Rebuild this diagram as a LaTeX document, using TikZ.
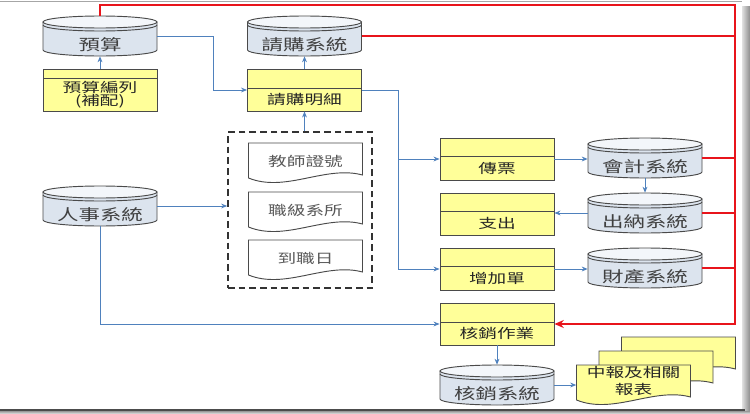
\documentclass[tikz,border=0pt]{standalone}
\usepackage{fontspec}
\setmainfont{Noto Sans CJK TC}[FakeStretch=1.4]
\usetikzlibrary{arrows.meta}

\definecolor{linkblue}{HTML}{4F81BD}
\definecolor{redline}{HTML}{E8141B}
\definecolor{procfill}{HTML}{FFFF99}
\definecolor{cylbody}{HTML}{DCE4EE}
\definecolor{cyltop}{HTML}{F3F6FA}
\definecolor{edge}{HTML}{4A4A4A}

% database drum: name, x, y, text
\newcommand\dbcyl[4]{%
  \begin{scope}[shift={(#2,#3)}]
    \filldraw[cylside] (-57,-14) -- (-57,14) arc[start angle=180,end angle=360,x radius=42.75pt,y radius=4.5pt] -- (57,-14) -- cycle;
    \filldraw[cyllid] (0,-14) ellipse[x radius=42.75pt,y radius=4.5pt];
    \draw[cylside,fill=none] (-57,-11) arc[start angle=180,end angle=360,x radius=42.75pt,y radius=4.5pt];
  \end{scope}
  \node[cyl,label={[cyltxt,yshift=-6.5pt]center:#4}] (#1) at (#2,#3) {};
}
% wavy sheet: x, y, fill
\newcommand\docsheet[3]{%
  \filldraw[docfill=#3,shift={(#1,#2)}] (-57,-20) -- (57,-20) -- (57,12) .. controls (20,2) and (-20,30) .. (-57,15) -- cycle;
}

\begin{document}
\begin{tikzpicture}[x=0.75pt,y=-0.75pt,
  link/.style={draw=linkblue,line width=0.7pt,-{Stealth[length=4.5pt,width=3.6pt]}},
  redbus/.style={draw=redline,line width=1.1pt},
  proc/.style={draw=edge,line width=0.7pt,fill=procfill,minimum width=85.5pt,minimum height=31.5pt,inner sep=0pt,
    path picture={\draw[edge,line width=0.7pt] ([yshift=-#1]path picture bounding box.north west) -- ([yshift=-#1]path picture bounding box.north east);}},
  proc/.default=13.5pt,
  boxtxt/.style={font=\fontsize{10pt}{10pt}\selectfont,text=black!85,align=center,inner sep=0pt},
  doctxt/.style={font=\fontsize{10pt}{10pt}\selectfont,text=black!65,inner sep=0pt},
  cyltxt/.style={font=\fontsize{11.5pt}{11.5pt}\selectfont,text=black!75,inner sep=0pt},
  cylside/.style={draw=edge,line width=0.7pt,fill=cylbody},
  cyllid/.style={draw=edge,line width=0.7pt,fill=cyltop},
  cyl/.style={minimum width=85.5pt,minimum height=30pt,inner sep=0pt},
  docfill/.style={draw=edge,line width=0.7pt,fill=#1},
  doc/.style={minimum width=85.5pt,minimum height=30pt,inner sep=0pt},
  grpbox/.style={draw=black!80,line width=1.2pt,dash pattern=on 5pt off 3pt,minimum width=108pt,minimum height=117pt,inner sep=0pt}]

  % page frame
  \useasboundingbox (0,0) rectangle (750,414);
  \fill[white] (0,0) rectangle (750,414);
  \draw[black!35,line width=0.8pt] (0,1.5) -- (742,1.5);
  \shade[left color=black!12,right color=black!45] (742,6) rectangle (750,414);
  \fill[black!70] (0,409) rectangle (745,411);
  \shade[top color=black!40,bottom color=black!8] (0,411) rectangle (750,414);

  % data stores
  \dbcyl{ys}{100}{36}{預算}
  \dbcyl{qs}{304.5}{36}{請購系統}
  \dbcyl{rs}{100}{206}{人事系統}
  \dbcyl{kj}{645}{158}{會計系統}
  \dbcyl{cn}{645}{213}{出納系統}
  \dbcyl{cc}{645}{268}{財產系統}
  \dbcyl{hc}{497}{385}{核銷系統}

  % processes
  \node[proc=6.75pt,label={[boxtxt,yshift=-3.4pt]center:預算編列\\(補配)}] (bj) at (100,90) {};
  \node[proc=14.25pt,label={[boxtxt,yshift=-7pt]center:請購明細}] (qm) at (304.5,90) {};
  \node[proc,label={[boxtxt,yshift=-6.75pt]center:傳票}] (cp) at (497,159) {};
  \node[proc,label={[boxtxt,yshift=-6.75pt]center:支出}] (zc) at (497,214) {};
  \node[proc,label={[boxtxt,yshift=-6.75pt]center:增加單}] (zj) at (497,269) {};
  \node[proc=14.25pt,label={[boxtxt,yshift=-7pt]center:核銷作業}] (hz) at (497,324) {};

  % personnel fields
  \node[grpbox] (grp) at (300,210) {};
  \docsheet{305.5}{163}{white}
  \node[doc,label={[doctxt,yshift=1.5pt]center:教師證號}] (js) at (305.5,163) {};
  \docsheet{305.5}{212}{white}
  \node[doc,label={[doctxt,yshift=1.5pt]center:職級系所}] (zx) at (305.5,212) {};
  \docsheet{305.5}{260}{white}
  \node[doc,label={[doctxt,yshift=1.5pt]center:到職日}] (dz) at (305.5,260) {};

  % reports
  \docsheet{678.5}{357}{procfill}
  \docsheet{656}{371}{procfill}
  \docsheet{633.5}{385}{procfill}
  \node[doc,label={[boxtxt,yshift=3pt,font=\fontsize{10pt}{12.5pt}\selectfont]center:中報及相關\\報表}] (rp) at (633.5,385) {};

  % blue flows
  \draw[link] (bj.north) -- (ys.south);
  \draw[link] (ys.east) -- ++(56,0) |- (qm.west);
  \draw[link] (qm.north) -- (qs.south);
  \draw[link] (qm.south |- grp.north) -- (qm.south);
  \draw[link] (rs.east) -- (rs.east -| grp.west);
  \draw[link] (qm.east) -- ++(36,0) |- (cp.west);
  \draw[link] (qm.east) -- ++(36,0) |- (zj.west);
  \draw[link] (cp.east) -- (cp.east -| kj.west);
  \draw[link] (kj.south) -- (cn.north);
  \draw[link] (cn.west) -- (cn.west -| zc.east);
  \draw[link] (zj.east) -- (zj.east -| cc.west);
  \draw[link] (rs.south) |- (hz.west);
  \draw[link] (hz.south) -- (hc.north);
  \draw[link] (hc.east) -- (hc.east -| rp.west);

  % red feedback bus
  \coordinate (redtop) at (735,5);
  \draw[redbus,-{Stealth[length=7pt,width=6pt]}] (ys.north) |- (redtop) -- (redtop |- hz.east) -- (hz.east);
  \draw[redbus] (qs.east) -- (qs.east -| redtop);
  \draw[redbus] (kj.east) -- (kj.east -| redtop);
  \draw[redbus] (cn.east) -- (cn.east -| redtop);
  \draw[redbus] (cc.east) -- (cc.east -| redtop);
\end{tikzpicture}
\end{document}
